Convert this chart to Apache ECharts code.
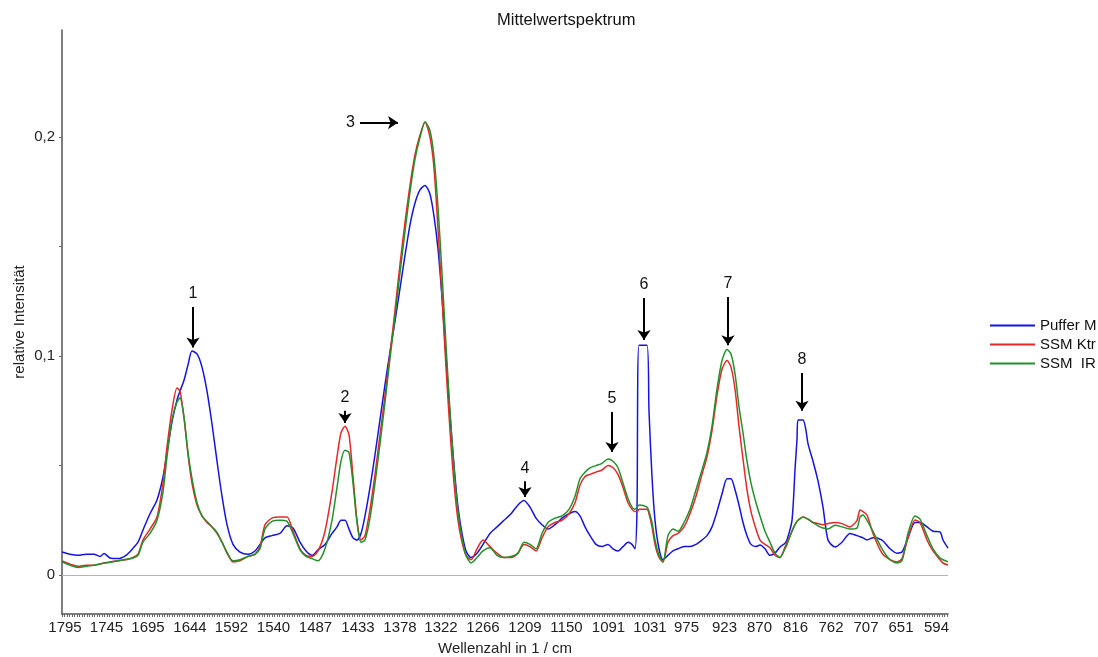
<!DOCTYPE html>
<html>
<head>
<meta charset="utf-8">
<script src="https://cdn.jsdelivr.net/npm/echarts@6/dist/echarts.min.js"></script>
<style>
  html, body { margin: 0; padding: 0; background: #fff; }
  #chart { width: 1098px; height: 657px; }
</style>
</head>
<body>
<div id="chart"></div>
<script>
// Spektrenkanal (Messpunkt entlang der Wellenzahlachse)
const kanal = [
  0, 8, 16, 24, 32, 38, 42, 48, 56, 64, 71, 76, 81, 88, 95, 101, 105, 110, 115, 118,
  122, 126, 130, 135, 140, 145, 150, 155, 160, 165, 171, 178, 186, 193, 198, 203, 210, 218, 225, 231,
  238, 244, 250, 256, 263, 270, 275, 279, 283, 287, 291, 295, 299, 303, 308, 313, 318, 323, 328, 333,
  338, 343, 348, 353, 358, 363, 368, 372, 376, 380, 384, 388, 392, 396, 400, 404, 409, 415, 421, 428,
  435, 442, 449, 456, 462, 468, 474, 480, 486, 493, 500, 507, 513, 518, 523, 528, 534, 540, 546, 551,
  556, 561, 566, 570, 573, 575, 577, 585, 587, 590, 593, 597, 601, 606, 611, 616, 622, 628, 634, 640,
  645, 650, 655, 660, 665, 669, 673, 677, 681, 685, 689, 694, 698, 703, 708, 713, 718, 723, 725, 730,
  733, 735, 736, 741, 744, 746, 751, 756, 761, 766, 773, 780, 788, 795, 798, 801, 805, 811, 820, 828,
  835, 840, 846, 853, 858, 865, 871, 878, 881, 886
];

// Mittelwertspektren der drei Proben
const pufferM = [
  .0105, .0095, .0090, .0095, .0095, .0085, .0098, .0078, .0075, .0090, .0122, .0150, .0206, .0280, .0343, .0448, .0560, .0700, .0800, .0840,
  .0890, .0960, .1024, .1010, .0950, .0840, .0690, .0520, .0360, .0230, .0140, .0105, .0095, .0110, .0140, .0170, .0180, .0190, .0225, .0215,
  .0150, .0110, .0090, .0115, .0140, .0190, .0220, .0250, .0250, .0210, .0170, .0160, .0190, .0270, .0400, .0550, .0710, .0870, .1020, .1160,
  .1310, .1460, .1600, .1700, .1760, .1780, .1740, .1640, .1490, .1270, .1000, .0730, .0500, .0310, .0190, .0110, .0080, .0100, .0140, .0190,
  .0220, .0250, .0280, .0320, .0340, .0310, .0260, .0230, .0210, .0230, .0260, .0280, .0290, .0270, .0220, .0180, .0140, .0130, .0140, .0120,
  .0110, .0130, .0150, .0140, .0120, .0300, .1050, .1050, .0750, .0450, .0250, .0120, .0070, .0090, .0110, .0120, .0130, .0130, .0140, .0160,
  .0180, .0220, .0290, .0370, .0440, .0440, .0390, .0320, .0240, .0180, .0140, .0130, .0137, .0120, .0090, .0100, .0128, .0145, .0160, .0250,
  .0480, .0620, .0708, .0708, .0660, .0600, .0520, .0430, .0310, .0160, .0128, .0150, .0190, .0180, .0175, .0170, .0160, .0170, .0160, .0120,
  .0100, .0105, .0170, .0240, .0240, .0220, .0200, .0197, .0160, .0123
];
const ssmKtr = [
  .0064, .0050, .0040, .0045, .0045, .0050, .0055, .0060, .0065, .0070, .0080, .0095, .0160, .0210, .0265, .0420, .0585, .0754, .0855, .0840,
  .0720, .0550, .0420, .0320, .0270, .0240, .0220, .0190, .0150, .0100, .0060, .0065, .0085, .0095, .0130, .0230, .0260, .0265, .0265, .0200,
  .0120, .0090, .0085, .0110, .0200, .0380, .0540, .0650, .0680, .0640, .0450, .0250, .0160, .0180, .0300, .0460, .0640, .0820, .1010, .1210,
  .1420, .1610, .1780, .1920, .2010, .2070, .2000, .1860, .1580, .1270, .0950, .0660, .0420, .0250, .0150, .0090, .0070, .0120, .0160, .0130,
  .0100, .0080, .0080, .0100, .0140, .0130, .0110, .0170, .0220, .0240, .0250, .0280, .0330, .0410, .0450, .0460, .0470, .0480, .0500, .0490,
  .0460, .0400, .0330, .0300, .0290, .0290, .0300, .0300, .0280, .0220, .0140, .0080, .0060, .0150, .0180, .0190, .0220, .0280, .0360, .0460,
  .0540, .0660, .0820, .0940, .0980, .0950, .0850, .0680, .0530, .0390, .0290, .0210, .0160, .0140, .0125, .0090, .0080, .0128, .0150, .0200,
  .0230, .0245, .0250, .0265, .0260, .0255, .0240, .0235, .0230, .0235, .0240, .0235, .0220, .0250, .0297, .0290, .0274, .0190, .0100, .0070,
  .0060, .0075, .0170, .0251, .0240, .0160, .0110, .0070, .0055, .0046
];
const ssmIR = [
  .0060, .0045, .0035, .0040, .0045, .0050, .0055, .0058, .0065, .0072, .0078, .0090, .0150, .0190, .0250, .0380, .0540, .0710, .0790, .0810,
  .0720, .0560, .0440, .0330, .0270, .0245, .0220, .0195, .0150, .0105, .0065, .0070, .0085, .0095, .0120, .0210, .0245, .0250, .0245, .0190,
  .0115, .0085, .0075, .0065, .0120, .0250, .0400, .0520, .0570, .0560, .0420, .0240, .0150, .0160, .0260, .0420, .0600, .0790, .0990, .1180,
  .1380, .1570, .1750, .1900, .2000, .2070, .2030, .1910, .1680, .1380, .1050, .0750, .0490, .0290, .0170, .0090, .0055, .0080, .0110, .0125,
  .0090, .0080, .0085, .0100, .0150, .0140, .0120, .0190, .0240, .0260, .0270, .0300, .0360, .0440, .0470, .0490, .0500, .0510, .0530, .0520,
  .0490, .0420, .0350, .0310, .0300, .0310, .0320, .0310, .0290, .0240, .0160, .0090, .0060, .0180, .0210, .0200, .0240, .0300, .0390, .0480,
  .0560, .0680, .0850, .0980, .1030, .1010, .0920, .0770, .0650, .0520, .0420, .0330, .0270, .0200, .0150, .0100, .0080, .0120, .0140, .0200,
  .0230, .0245, .0250, .0265, .0260, .0255, .0240, .0225, .0215, .0210, .0228, .0220, .0210, .0215, .0265, .0274, .0250, .0200, .0120, .0070,
  .0055, .0065, .0190, .0270, .0255, .0180, .0120, .0078, .0070, .0060
];

// Beschriftung der Wellenzahlachse und der Kanal, an dem jede Marke steht
const wellenzahlLabels = ['1795', '1745', '1695', '1644', '1592', '1540', '1487', '1433', '1378', '1322', '1266', '1209',
  '1150', '1091', '1031', '975', '923', '870', '816', '762', '707', '651', '594'];
const labelKanal = [3, 44.5, 86, 128, 169.5, 211.5, 253.5, 296, 338, 379, 421, 463,
  504.5, 546.5, 588, 624.5, 662.5, 697.5, 733.5, 769, 804, 839, 874.5];

// Nummerierte Banden: Pfeil von [Kanal, Intensität] nach [Kanal, Intensität]
const banden = [
  { nr: '1', von: [131, 0.1225], nach: [131, 0.1040] },
  { nr: '2', von: [283, 0.0750], nach: [283, 0.0695] },
  { nr: '3', von: [298, 0.2067], nach: [336, 0.2067] },
  { nr: '4', von: [463, 0.0428], nach: [463, 0.0356] },
  { nr: '5', von: [550, 0.0745], nach: [550, 0.0562] },
  { nr: '6', von: [582, 0.1266], nach: [582, 0.1074] },
  { nr: '7', von: [666, 0.1270], nach: [666, 0.1050] },
  { nr: '8', von: [740, 0.0923], nach: [740, 0.0750] }
];

const FONT = 'Liberation Sans, Arial, sans-serif';
const zip = ys => kanal.map((k, i) => [k, ys[i]]);

const xTicks = [];
for (let k = 0; k <= 886; k += 2.5) xTicks.push(k);

const lineSeries = (name, ys, color) => ({
  name: name,
  type: 'line',
  data: zip(ys),
  showSymbol: false,
  smooth: 0.25,
  lineStyle: { color: color, width: 1.5 },
  itemStyle: { color: color },
  animation: false,
  z: 3
});

const serPuffer = lineSeries('Puffer M', pufferM, '#1414e0');
serPuffer.markLine = {
  silent: true, symbol: 'none', animation: false,
  label: { show: false },
  lineStyle: { color: '#b4b4b4', width: 1, type: 'solid' },
  data: [{ yAxis: 0 }]
};
const serKtr = lineSeries('SSM Ktr', ssmKtr, '#e62828');
const serIR = lineSeries('SSM  IR', ssmIR, '#23902a');
serIR.markLine = {
  silent: true, animation: false,
  symbol: ['none', 'arrow'],
  symbolSize: 10,
  lineStyle: { color: '#000', width: 2, type: 'solid' },
  label: {
    show: true, position: 'start', distance: 5,
    formatter: p => p.name,
    color: '#111', fontSize: 16, fontFamily: FONT
  },
  data: banden.map(b => [{ coord: b.von, name: b.nr }, { coord: b.nach }])
};

const chart = echarts.init(document.getElementById('chart'));
chart.setOption({
  backgroundColor: '#fff',
  animation: false,
  title: {
    text: 'Mittelwertspektrum',
    left: 497, top: 12, padding: 0,
    textStyle: { fontFamily: FONT, fontSize: 16.5, fontWeight: 'normal', color: '#111' }
  },
  legend: {
    orient: 'vertical',
    left: 985, top: 313,
    itemWidth: 45, itemHeight: 2, itemGap: 4,
    icon: 'rect',
    data: ['Puffer M', 'SSM Ktr', 'SSM  IR'],
    textStyle: { fontFamily: FONT, fontSize: 15, color: '#111' }
  },
  grid: { left: 62, right: 150, top: 30, bottom: 43, containLabel: false, outerBoundsMode: 'none' },
  xAxis: {
    type: 'value',
    min: 0, max: 886,
    name: 'Wellenzahl in 1 / cm',
    nameLocation: 'middle', nameGap: 27,
    nameMoveOverlap: false,
    nameTextStyle: { fontFamily: FONT, fontSize: 15, color: '#222' },
    axisLine: { onZero: false, lineStyle: { color: '#555', width: 1.5 } },
    axisTick: { show: true, customValues: xTicks, length: 3, lineStyle: { color: '#666', width: 1 } },
    axisLabel: {
      customValues: labelKanal,
      margin: 6,
      fontFamily: FONT, fontSize: 15, color: '#222',
      formatter: v => {
        const i = labelKanal.findIndex(k => Math.abs(k - v) < 0.01);
        return i >= 0 ? wellenzahlLabels[i] : '';
      }
    },
    splitLine: { show: false }
  },
  yAxis: {
    type: 'value',
    min: -0.0178, max: 0.249,
    name: 'relative Intensität',
    nameLocation: 'middle', nameGap: 35,
    nameMoveOverlap: false,
    nameTextStyle: { fontFamily: FONT, fontSize: 15, color: '#222' },
    axisLine: { show: true, lineStyle: { color: '#555', width: 1.5 } },
    axisTick: { show: true, customValues: [0, 0.05, 0.1, 0.15, 0.2], length: 3, lineStyle: { color: '#666' } },
    axisLabel: {
      customValues: [0, 0.1, 0.2],
      margin: 7,
      fontFamily: FONT, fontSize: 15, color: '#222',
      formatter: v => String(Math.round(v * 10) / 10).replace('.', ',')
    },
    splitLine: { show: false }
  },
  series: [serPuffer, serKtr, serIR]
});
</script>
</body>
</html>
